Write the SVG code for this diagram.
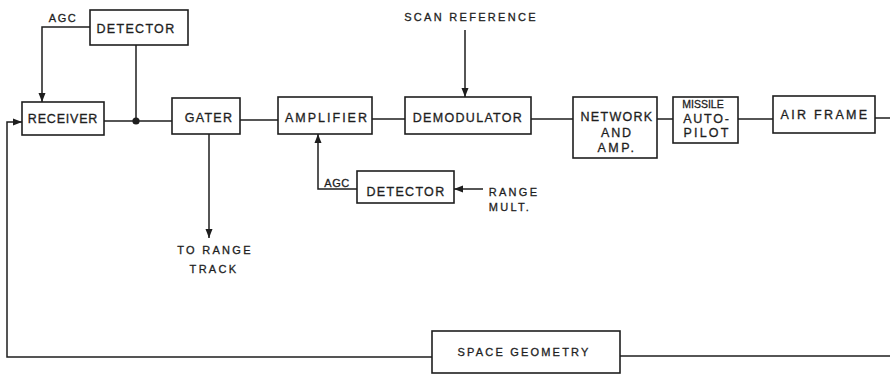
<svg xmlns="http://www.w3.org/2000/svg" width="890" height="375" viewBox="0 0 890 375">
<defs>
<marker id="arr" markerWidth="10" markerHeight="8" refX="9" refY="4" orient="auto" markerUnits="userSpaceOnUse">
<path d="M0,0.5 L9,4 L0,7.5 Z" fill="#1e1e1e"/>
</marker>
<style>
.box{fill:#fff;stroke:#1e1e1e;stroke-width:1.6}
.ln{fill:none;stroke:#1e1e1e;stroke-width:1.5}
text{font-family:"Liberation Sans",Arial,sans-serif;font-size:12.5px;fill:#1e1e1e;stroke:#1e1e1e;stroke-width:0.3;text-anchor:middle;letter-spacing:1.3px}
.s{font-size:11px;letter-spacing:2.3px}
</style>
</defs>
<rect width="890" height="375" fill="#fff"/>
<g id="connectors">
<path class="ln" d="M90,27 H42 V102" marker-end="url(#arr)"/>
<path class="ln" d="M136,45 V121"/>
<path class="ln" d="M104,121 H172"/>
<circle cx="136" cy="121" r="3.6" fill="#1e1e1e"/>
<path class="ln" d="M240,120 H278"/>
<path class="ln" d="M372,119 H405"/>
<path class="ln" d="M531,119 H573"/>
<path class="ln" d="M657,119 H673"/>
<path class="ln" d="M738,119 H773"/>
<path class="ln" d="M875,118 H890"/>
<path class="ln" d="M209,134 V238" marker-end="url(#arr)"/>
<path class="ln" d="M465,30 V97" marker-end="url(#arr)"/>
<path class="ln" d="M357,189 H318 V134" marker-end="url(#arr)"/>
<path class="ln" d="M483,189 H454" marker-end="url(#arr)"/>
<path class="ln" d="M432,357 H7 V122 H22" marker-end="url(#arr)"/>
<path class="ln" d="M620,356 H890"/>
</g>
<g id="detector-top">
<rect class="box" x="90" y="10" width="98" height="35"/>
<text x="136" y="33">DETECTOR</text>
</g>
<text class="s" x="63" y="22" style="letter-spacing:1.5px">AGC</text>
<g id="receiver">
<rect class="box" x="22" y="102" width="82" height="33"/>
<text x="63" y="123" style="letter-spacing:0.8px">RECEIVER</text>
</g>
<g id="gater">
<rect class="box" x="172" y="98" width="68" height="36"/>
<text x="209" y="122">GATER</text>
</g>
<g id="amplifier">
<rect class="box" x="278" y="97" width="94" height="37"/>
<text x="327" y="122" style="letter-spacing:2px">AMPLIFIER</text>
</g>
<g id="demodulator">
<rect class="box" x="405" y="97" width="126" height="37"/>
<text x="468" y="122">DEMODULATOR</text>
</g>
<text x="471" y="21" class="s">SCAN REFERENCE</text>
<g id="network">
<rect class="box" x="573" y="97" width="84" height="61"/>
<text x="617" y="121">NETWORK</text>
<text x="617" y="137" style="letter-spacing:1.8px">AND</text>
<text x="617" y="152" style="letter-spacing:2.5px">AMP.</text>
</g>
<g id="missile-autopilot">
<rect class="box" x="673" y="97" width="65" height="46"/>
<text x="703" y="108" style="font-size:10.5px;letter-spacing:0">MISSILE</text>
<text x="707" y="123" style="letter-spacing:1.8px">AUTO-</text>
<text x="707" y="137" style="letter-spacing:2.2px">PILOT</text>
</g>
<g id="airframe">
<rect class="box" x="773" y="96" width="102" height="37"/>
<text x="825" y="119" style="letter-spacing:2.3px">AIR FRAME</text>
</g>
<g id="detector-low">
<rect class="box" x="357" y="171" width="97" height="32"/>
<text x="406" y="196">DETECTOR</text>
</g>
<text class="s" x="337" y="187" style="letter-spacing:0.5px">AGC</text>
<text class="s" x="514" y="196">RANGE</text>
<text class="s" x="510" y="211">MULT.</text>
<text class="s" x="215" y="254">TO RANGE</text>
<text class="s" x="214" y="273">TRACK</text>
<g id="space-geometry">
<rect class="box" x="432" y="331" width="188" height="42"/>
<text class="s" x="524" y="356" style="letter-spacing:2.2px">SPACE GEOMETRY</text>
</g>
</svg>
